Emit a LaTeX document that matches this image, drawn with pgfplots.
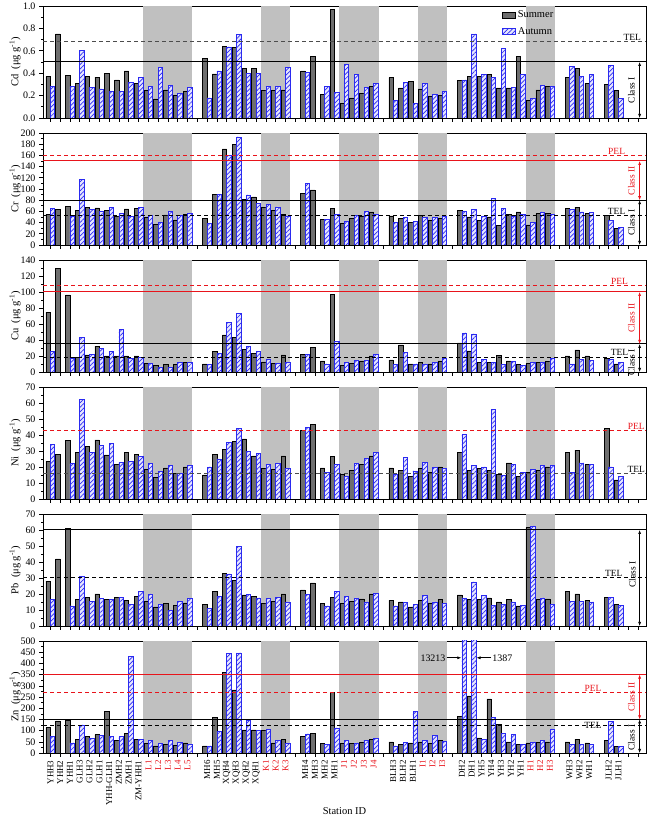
\documentclass[border=0pt]{standalone}
\usepackage{fontspec}
\setmainfont{Liberation Serif}
\usepackage{pgfplots}
\pgfplotsset{compat=1.18}
\usepackage{pgfplotstable}
\usetikzlibrary{patterns.meta,arrows.meta}

\definecolor{summer}{HTML}{6E6E6E}
\definecolor{autumn}{HTML}{2A2AF0}
\definecolor{autfill}{HTML}{E6E6FF}
\definecolor{band}{HTML}{C0C0C0}
\definecolor{pel}{HTML}{E8141B}
\newcommand\rl[1]{\textcolor{pel}{#1}}

% columns: x position, summer, autumn
\pgfplotstableread{
x s a
1 0.37 0.28
2 0.75 nan
3 0.38 0.28
4 0.31 0.60
5 0.37 0.27
6 0.365 0.26
7 0.40 0.24
8 0.34 0.24
9 0.42 0.32
10 0.31 0.36
11 0.245 0.28
12 0.17 0.455
13 0.25 0.29
14 0.20 0.22
15 0.235 0.27
17 0.53 0.18
18 0.395 0.42
19 0.64 0.635
20 0.63 0.745
21 0.44 0.395
22 0.44 0.395
23 0.245 0.28
24 0.245 0.28
25 0.25 0.45
27 0.42 0.41
28 0.55 nan
29 0.21 0.28
30 0.97 0.23
31 0.13 0.48
32 0.18 0.39
33 0.22 0.27
34 0.28 0.31
36 0.36 0.16
37 0.27 0.32
38 0.33 0.13
39 0.26 0.31
40 0.19 0.21
41 0.20 0.24
43 0.335 0.34
44 0.37 0.75
45 0.37 0.39
46 0.39 0.36
47 0.27 0.62
48 0.27 0.27
49 0.55 0.39
50 0.16 0.175
51 0.25 0.29
52 0.28 0.28
54 0.365 0.46
55 0.44 0.37
56 0.31 0.39
58 0.30 0.47
59 0.245 0.175
}\tabCd

\pgfplotstableread{
x s a
1 54.6 64.7
2 63.5 nan
3 69 51.6
4 61.7 117
5 67 63
6 66.5 59.3
7 61.7 67
8 51 56.4
9 64.7 51.6
10 65.3 67
11 48.7 52.8
12 37.4 39.8
13 54 59.3
14 45 52.2
15 54.6 56.4
17 47.5 38.6
18 90.2 90.2
19 171.5 159.6
20 180 193
21 82 89.6
22 86 73.6
23 67 71.8
24 61.7 68.2
25 54.6 50.4
27 92.6 109.8
28 98.5 nan
29 46 46
30 65 54
31 39 42.7
32 47.5 52.8
33 52.2 60.5
34 59.3 54.6
36 52.2 40.4
37 47.5 49.9
38 41 41.5
39 53.4 49.9
40 43.3 48.7
41 47.5 51
43 61.7 60
44 50.4 63
45 43.3 51
46 50 83
47 35.6 65
48 54.6 52
49 59 55
50 36 40
51 56 59
52 56 55
54 66 64
55 67.7 59
56 56 57.6
58 53.4 44.5
59 30 31.5
}\tabCr

\pgfplotstableread{
x s a
1 74.6 26
2 129.7 nan
3 96.5 16.6
4 18.6 43.5
5 21.5 21.5
6 32.3 29
7 20 26
8 20 53.4
9 20 17.4
10 20 17.8
11 10.4 10.4
12 8.3 6.2
13 9.5 6.2
14 9.1 12
15 12.4 12.4
17 10 9.1
18 26 23.2
19 46.4 62
20 43.5 73.7
21 28.2 32.3
22 23.6 26
23 12.8 15.7
24 11.2 11.2
25 21.5 12.4
27 22.4 22.4
28 31 nan
29 14 10
30 97 38.5
31 8.3 11.6
32 11.2 14
33 14 14
34 20 21.5
36 15.3 9.5
37 34 24.9
38 10 10
39 12 10
40 10 12
41 14 16.6
43 36.5 48.9
44 26.5 47.6
45 12 15.3
46 12.4 12.4
47 20.7 9.1
48 14 13.7
49 9.1 7.9
50 10.4 12
51 12 12
52 13.3 16.6
54 20 10
55 27.8 15.3
56 20 14
58 16.6 15.3
59 10 11.6
}\tabCu

\pgfplotstableread{
x s a
1 23.5 34
2 28 nan
3 36.5 22
4 29 62
5 33 29
6 37 33.5
7 27.5 34.5
8 21.5 23
9 29 23.5
10 28 26.5
11 18.5 22
12 13.5 17
13 19.5 21
14 16 16
15 20 21
17 15 20
18 28 25
19 31 35.5
20 36 44
21 37.5 29.5
22 27 28.5
23 19 21.5
24 18.5 22.5
25 27 19
27 43 44.5
28 46.5 nan
29 19.5 16.5
30 26.5 21.5
31 15.5 14
32 18 22.5
33 21.5 25.5
34 27 29
36 19.5 15.5
37 18 26
38 14 17.5
39 19 23
40 16.5 19.5
41 20 19
43 29 40.5
44 18 21
45 19 20
46 18 56
47 15.5 14.5
48 22.5 21.5
49 14 16.5
50 16.5 18.5
51 18 21
52 20 21
54 29 16.5
55 30.5 22.5
56 21.5 21.5
58 44 20
59 12 14
}\tabNi

\pgfplotstableread{
x s a
1 28 16.5
2 42 nan
3 61 12.5
4 16.5 31
5 18 15.5
6 20 17
7 16.5 16.5
8 18 18
9 16 13.5
10 18.5 21.5
11 15.5 20
12 12 13.5
13 14 9.5
14 13 15.5
15 14.5 17
17 13.5 11
18 21.5 18.5
19 33 32.5
20 28.5 49.5
21 19.5 19.5
22 18.5 17.5
23 14 17
24 15.5 18
25 20 15
27 22.5 19.5
28 27 nan
29 14 12.5
30 18 21.5
31 14 18.5
32 15.5 17.5
33 17 15
34 20 20.5
36 16 12.5
37 15 14.5
38 12 13.5
39 16 19
40 14.5 15
41 16.5 14
43 19.5 17.5
44 16.5 27.5
45 16.5 19
46 17.5 13
47 15 13.5
48 16.5 15
49 12.5 13
50 61.5 62.5
51 16.5 17.5
52 17 13.5
54 21.5 15.5
55 20 15.5
56 16 15
58 18 18
59 13.5 13
}\tabPb

\pgfplotstableread{
x s a
1 113 73
2 143 nan
3 145 45
4 62 125
5 73 65
6 82 80
7 187 75
8 58 75
9 88 430
10 62 62
11 42 58
12 32 42
13 38 55
14 35 48
15 45 38
17 32 32
18 158 95
19 360 443
20 282 447
21 103 145
22 103 100
23 102 105
24 45 58
25 60 42
27 75 85
28 88 nan
29 42 40
30 270 112
31 42 55
32 42 45
33 48 55
34 62 65
36 50 32
37 38 48
38 45 185
39 50 58
40 42 80
41 55 52
43 165 13213
44 255 1387
45 68 62
46 242 160
47 128 88
48 50 82
49 38 38
50 45 50
51 48 58
52 50 108
54 50 40
55 62 40
56 45 40
58 58 142
59 28 30
}\tabZn

\tikzset{
  thr/.style={line width=1pt},
  dsh/.style={line width=1pt, dash pattern=on 4bp off 3bp},
  lab/.style={font=\fontsize{9.5}{10}\selectfont, inner sep=1bp},
}
\pgfplotsset{
  panel/.style={
    scale only axis, width=603bp, height=112bp, anchor=south west,
    xmin=0.25, xmax=61.8, ymin=0,
    xtick={1,...,61}, xticklabels={},
    tick pos=left, tick align=outside,
    major tick length=4bp, minor tick length=2bp,
    minor y tick num=1,
    axis line style={line width=0.8pt},
    every tick/.style={black, line width=0.6pt},
    clip mode=individual,
    /pgf/number format/assume math mode=true,
    tick label style={font=\fontsize{10}{11}\selectfont},
    every axis y label/.style={at={(rel axis cs:0,0.5)}, xshift=-28bp,
      rotate=90, anchor=center, font=\fontsize{10.5}{12}\selectfont},
  },
  sum/.style={ybar, bar width=0.45, bar shift=-0.225, fill=summer,
    draw=black, line width=0.5pt},
  aut/.style={ybar, bar width=0.45, bar shift=0.225, fill=autfill,
    draw=autumn, line width=0.6pt,
    postaction={pattern={Lines[angle=45,distance=3.2pt,line width=0.7pt]},
      pattern color=autumn}},
}
\newcommand\bands[1]{%
  \fill[band] (axis cs:10.5,0) rectangle (axis cs:15.5,#1);
  \fill[band] (axis cs:22.5,0) rectangle (axis cs:25.5,#1);
  \fill[band] (axis cs:30.5,0) rectangle (axis cs:34.5,#1);
  \fill[band] (axis cs:38.5,0) rectangle (axis cs:41.5,#1);
  \fill[band] (axis cs:49.5,0) rectangle (axis cs:52.5,#1);}
\newcommand\hl[2]{\draw[#1] (axis cs:0.25,#2) -- (axis cs:61.8,#2);}
\newcommand\cls[3]{% color, from, to
  \draw[#1, line width=0.6pt, {Latex[length=4bp,width=3bp]}-{Latex[length=4bp,width=3bp]}]
    (axis cs:61.15,#2) -- (axis cs:61.15,#3);}
\newcommand\barplots[1]{%
  \addplot[sum] table[x=x,y=s] {#1};
  \addplot[aut] table[x=x,y=a] {#1};}

\begin{document}
\begin{tikzpicture}
\useasboundingbox (0,0) rectangle (648bp,821bp);

% Cd
\begin{axis}[panel, at={(43bp,703bp)}, ymax=1,
  ytick={0,0.2,0.4,0.6,0.8,1},
  yticklabel style={/pgf/number format/.cd,fixed,fixed zerofill,precision=1},
  ylabel={Cd\ \ (μg g\textsuperscript{-1})},
  legend style={at={(axis cs:47.1,0.975)}, anchor=north west, draw=none,
    fill=none, font=\fontsize{10.5}{12}\selectfont, row sep=4bp,
    inner sep=0pt, legend cell align=left},
  legend image code/.code={\draw[#1] (0bp,-3bp) rectangle (13bp,3bp);}]
\bands{1}
\barplots{\tabCd}
\addlegendentry{Summer}
\addlegendentry{Autumn}
\hl{thr,black}{0.5}
\hl{dsh,black!70}{0.68}
\node[lab, anchor=south] at (axis cs:60.4,0.68) {TEL};
\cls{black}{0}{0.5}
\node[lab, rotate=90] at (axis cs:60.3,0.25) {Class I};
\end{axis}

% Cr
\begin{axis}[panel, at={(43bp,576bp)}, ymax=200,
  ytick={0,20,...,200},
  ylabel={Cr\ \ (μg g\textsuperscript{-1})}]
\bands{200}
\barplots{\tabCr}
\hl{thr,pel}{150}
\hl{dsh,pel}{160}
\hl{thr,black}{80}
\hl{dsh,black}{52}
\node[lab, anchor=south, text=pel] at (axis cs:58.8,160) {PEL};
\node[lab, anchor=south] at (axis cs:58.8,52) {TEL};
\cls{pel}{80}{150}
\cls{black}{0}{80}
\node[lab, rotate=90, text=pel] at (axis cs:60.3,115) {Class II};
\node[lab, rotate=90] at (axis cs:60.3,40) {Class I};
\end{axis}

% Cu
\begin{axis}[panel, at={(43bp,449bp)}, ymax=140,
  ytick={0,20,...,140},
  ylabel={Cu\ \ (μg g\textsuperscript{-1})}]
\bands{140}
\barplots{\tabCu}
\hl{thr,pel}{100}
\hl{dsh,pel}{108}
\hl{thr,black}{35}
\hl{dsh,black}{18.7}
\node[lab, anchor=south, text=pel] at (axis cs:59.1,108) {PEL};
\node[lab, anchor=south] at (axis cs:59.1,18.7) {TEL};
\cls{pel}{35}{100}
\cls{black}{0}{35}
\node[lab, rotate=90, text=pel] at (axis cs:60.3,67.5) {Class II};
\node[lab, rotate=90] at (axis cs:60.3,12) {Class I};
\end{axis}

% Ni
\begin{axis}[panel, at={(43bp,322bp)}, ymax=70,
  ytick={0,10,...,70},
  ylabel={Ni\ \ (μg g\textsuperscript{-1})}]
\bands{70}
\barplots{\tabNi}
\hl{dsh,pel}{42.8}
\hl{dsh,black!70}{15.9}
\node[lab, anchor=south, text=pel] at (axis cs:60.8,42.8) {PEL};
\node[lab, anchor=south] at (axis cs:60.8,15.9) {TEL};
\end{axis}

% Pb
\begin{axis}[panel, at={(43bp,195bp)}, ymax=70,
  ytick={0,10,...,70},
  ylabel={Pb\ \ (μg g\textsuperscript{-1})}]
\bands{70}
\barplots{\tabPb}
\hl{thr,black}{60}
\hl{dsh,black}{30.2}
\node[lab, anchor=south] at (axis cs:58.5,30.2) {TEL};
\cls{black}{0}{60}
\node[lab, rotate=90] at (axis cs:60.4,32) {Class I};
\end{axis}

% Zn
\begin{axis}[panel, at={(43bp,68bp)}, ymax=500,
  ytick={0,50,...,500},
  ylabel={Zn\ \ (μg g\textsuperscript{-1})},
  xlabel={Station ID},
  every axis x label/.style={at={(rel axis cs:0.5,0)}, anchor=center,
    yshift=-58bp, font=\fontsize{10.5}{12}\selectfont},
  xticklabels={YHH3,YHH2,YHH1,GLH3,GLH2,GLH1,YHH-GLH1,ZMH2,ZMH1,ZM-YHH1,
    \rl{L1},\rl{L2},\rl{L3},\rl{L4},\rl{L5},,
    MH6,MH5,XQH4,XQH3,XQH2,XQH1,\rl{K1},\rl{K2},\rl{K3},,
    MH4,MH3,MH2,MH1,\rl{J1},\rl{J2},\rl{J3},\rl{J4},,
    BLH3,BLH2,BLH1,\rl{I1},\rl{I2},\rl{I3},,
    DH2,DH1,YH5,YH4,YH3,YH2,YH1,\rl{H1},\rl{H2},\rl{H3},,
    WH3,WH2,WH1,,JLH2,JLH1,,},
  xticklabel style={rotate=90, anchor=east, font=\fontsize{9}{10}\selectfont}]
\bands{500}
\barplots{\tabZn}
\hl{thr,pel}{350}
\hl{dsh,pel}{271}
\hl{thr,black}{150}
\hl{dsh,black}{124}
\node[lab, anchor=south, text=pel] at (axis cs:56.4,271) {PEL};
\node[lab, anchor=south, yshift=-4bp] at (axis cs:56.4,124) {TEL};
\cls{pel}{150}{350}
\cls{black}{0}{150}
\node[lab, rotate=90, text=pel] at (axis cs:60.3,250) {Class II};
\node[lab, rotate=90] at (axis cs:60.3,70) {Class I};
\draw[line width=0.6pt, -{Latex[length=4bp,width=3bp]}] (axis cs:41.45,425) -- (axis cs:42.95,425);
\node[lab, anchor=east, font=\fontsize{10}{11}\selectfont] at (axis cs:41.45,425) {13213};
\draw[line width=0.6pt, -{Latex[length=4bp,width=3bp]}] (axis cs:46.0,425) -- (axis cs:44.5,425);
\node[lab, anchor=west, font=\fontsize{10}{11}\selectfont] at (axis cs:46.0,425) {1387};
\end{axis}
\end{tikzpicture}
\end{document}
